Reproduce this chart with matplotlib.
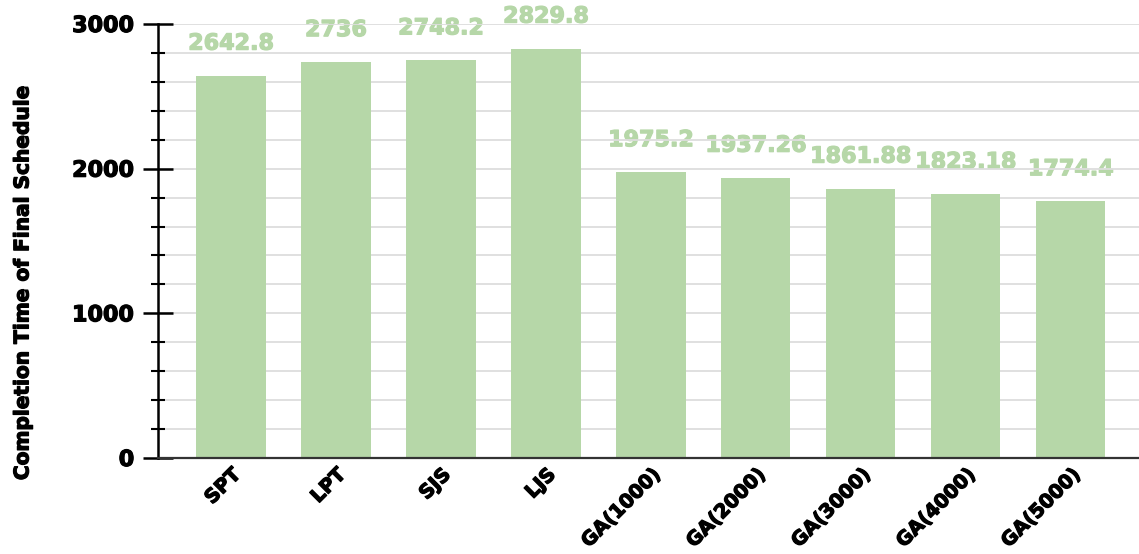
import matplotlib.pyplot as plt
import matplotlib.patheffects as pe
from matplotlib.ticker import MultipleLocator

# completion time per scheduling method
methods = ["SPT", "LPT", "SJS", "LJS", "GA(1000)", "GA(2000)", "GA(3000)", "GA(4000)", "GA(5000)"]
times = [2642.8, 2736, 2748.2, 2829.8, 1975.2, 1937.26, 1861.88, 1823.18, 1774.4]
value_labels = ["2642.8", "2736", "2748.2", "2829.8", "1975.2", "1937.26", "1861.88", "1823.18", "1774.4"]

green = "#b6d7a8"
plt.rcParams["font.family"] = ["DejaVu Sans"]
plt.rcParams["font.weight"] = "bold"

fig = plt.figure(figsize=(11.39, 5.54), dpi=100)
ax = fig.add_axes([158 / 1139, 96 / 554, 1 - 158 / 1139, 434 / 554])

x = list(range(len(methods)))
ax.bar(x, times, width=0.66, color=green, zorder=2)

# value labels sit under the grid lines, bars on top of both
for i, (t, lab) in enumerate(zip(times, value_labels)):
    ax.text(i, t + 180, lab, ha="center", va="baseline", color=green,
            fontsize=16, fontweight="bold", zorder=0.3,
            path_effects=[pe.withStroke(linewidth=0.9, foreground=green)])

ax.set_ylim(0, 3000)
ax.set_xlim(-0.695, 8.65)
ax.yaxis.set_major_locator(MultipleLocator(1000))
ax.yaxis.set_minor_locator(MultipleLocator(200))
ax.set_axisbelow(True)
ax.grid(axis="y", which="both", color="#dddddd", linewidth=1.3)

for s in ["top", "right"]:
    ax.spines[s].set_visible(False)
ax.spines["left"].set_linewidth(1.8)
ax.spines["left"].set_zorder(3)
ax.spines["bottom"].set_color("#333333")
ax.spines["bottom"].set_linewidth(1.6)
ax.spines["bottom"].set_zorder(3)

heavy = [pe.withStroke(linewidth=0.9, foreground="black")]
ax.tick_params(axis="y", which="major", direction="inout", length=22, width=1.8,
               labelsize=16, pad=6)
ax.tick_params(axis="y", which="minor", direction="inout", length=10, width=1.5)
ax.tick_params(axis="x", length=0, pad=5)
ax.set_xticks(x)
ax.set_xticklabels(methods, rotation=45, ha="right", rotation_mode="anchor",
                   fontsize=14, fontweight="bold")
for lbl in ax.get_xticklabels() + ax.get_yticklabels():
    lbl.set_fontweight("bold")
    lbl.set_path_effects(heavy)

ax.set_ylabel("Completion Time of Final Schedule", fontsize=14.5, fontweight="bold",
              path_effects=heavy)
ax.yaxis.set_label_coords(-0.128, 0.405)

fig.savefig("out.png", dpi=100)
